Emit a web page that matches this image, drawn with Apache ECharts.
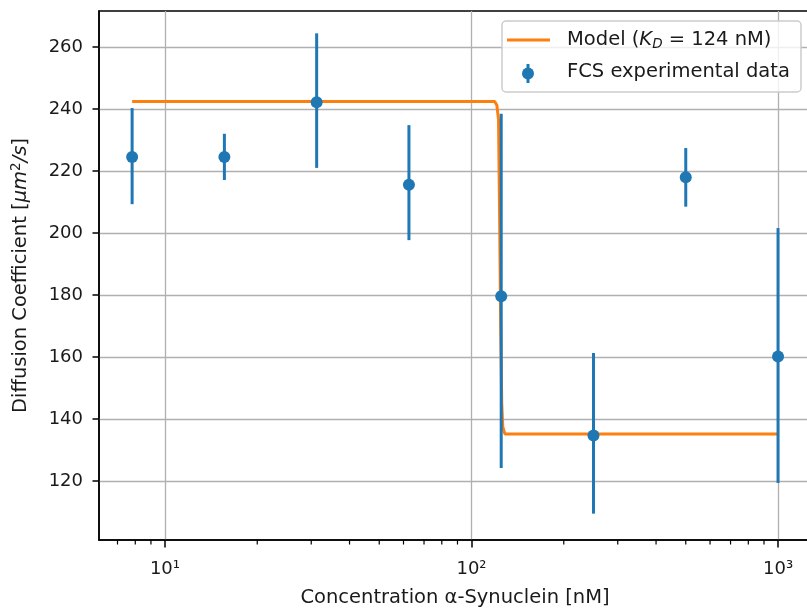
<!DOCTYPE html>
<html><head><meta charset="utf-8">
<script src="https://cdn.jsdelivr.net/npm/echarts@6/dist/echarts.min.js"></script>
<style>html,body{margin:0;padding:0;background:#fff}#c{width:807px;height:609px}</style>
</head><body><div id="c"></div>
<script>
// ---- data ----
const concentrations = [7.8125, 15.625, 31.25, 62.5, 125, 250, 500, 1000];
const diffusion      = [224.5, 224.5, 242.2, 215.6, 179.6, 134.7, 218.0, 160.2];
const errLow         = [209.3, 217.1, 221.0, 197.7, 124.2, 109.5, 208.5, 119.4];
const errHigh        = [240.3, 232.0, 264.4, 234.8, 238.5, 161.3, 227.4, 201.6];
const modelX = [7.8125, 119, 121, 122.5, 123.5, 124.5, 125.5, 126.5, 128.5, 1000];
const modelY = [242.4, 242.4, 241.2, 236.5, 205, 170, 145, 137.5, 135.2, 135.2];
const xTickValues = [10, 100, 1000];
const xTickLabels = ['10\u00B9', '10\u00B2', '10\u00B3'];
const xMinorTicks = [7, 8, 9, 20, 30, 40, 50, 60, 70, 80, 90, 200, 300, 400, 500, 600, 700, 800, 900];
const yTickValues = [120, 140, 160, 180, 200, 220, 240, 260];
const xMin = 6.092, xMax = 1281;
const yMin = 101.0, yMax = 271.6;

const FONT = 'DejaVu Sans';
const BLUE = '#1f77b4', ORANGE = '#ff7f0e', TXT = '#1a1a1a';

const chart = echarts.init(document.getElementById('c'), null, {renderer: 'canvas'});

const errData = concentrations.map((x, i) => [x, errLow[i], errHigh[i]]);
const ptData = concentrations.map((x, i) => [x, diffusion[i]]);
const modelData = modelX.map((x, i) => [x, modelY[i]]);

const option = {
  backgroundColor: '#fff',
  animation: false,
  grid: {left: 99, top: 11, right: -4, bottom: 69, show: true, borderColor: '#000', borderWidth: 1.5,
         containLabel: false, outerBoundsMode: 'none'},
  xAxis: {
    type: 'log', logBase: 10, min: xMin, max: xMax,
    name: 'Concentration \u03B1-Synuclein [nM]', nameLocation: 'middle', nameGap: 48,
    nameTextStyle: {fontFamily: FONT, fontSize: 19.5, color: TXT},
    axisLine: {show: true, lineStyle: {color: '#000', width: 1.5}},
    axisTick: {show: true, customValues: xTickValues, length: 7.5, lineStyle: {color: '#000', width: 1.5}},
    axisLabel: {show: true, customValues: xTickValues, margin: 20, fontFamily: FONT, fontSize: 18, color: TXT,
      formatter: v => { const i = xTickValues.findIndex(t => Math.abs(t - v) / t < 1e-6); return i >= 0 ? xTickLabels[i] : ''; }},
    splitLine: {show: true, lineStyle: {color: '#b0b0b0', width: 1.3}},
    minorTick: {show: false}, minorSplitLine: {show: false}
  },
  yAxis: {
    type: 'value', min: yMin, max: yMax,
    name: '{n|Diffusion Coefficient [}{i|\u03BCm}{sup|2}{i|/s}{n|]}', nameLocation: 'middle', nameGap: 67,
    nameTextStyle: {fontFamily: FONT, fontSize: 19.5, color: TXT,
      rich: {n: {fontFamily: FONT, fontSize: 19.5, color: TXT},
             i: {fontFamily: FONT, fontSize: 19.5, fontStyle: 'italic', color: TXT},
             sup: {fontFamily: FONT, fontSize: 13.5, fontStyle: 'normal', color: TXT, padding: [0, 0, 9, 0]}}},
    axisLine: {show: true, lineStyle: {color: '#000', width: 1.5}},
    axisTick: {show: true, customValues: yTickValues, length: 6.5, lineStyle: {color: '#000', width: 1.5}},
    axisLabel: {show: true, customValues: yTickValues, margin: 16, fontFamily: FONT, fontSize: 18, color: TXT},
    splitLine: {show: true, lineStyle: {color: '#b0b0b0', width: 1.3}}
  },
  series: [
    {
      name: 'Model', type: 'line', data: modelData, showSymbol: false, symbol: 'none',
      lineStyle: {color: ORANGE, width: 3}, itemStyle: {color: ORANGE}, z: 2
    },
    {
      name: 'errbars', type: 'custom', data: errData, z: 3,
      renderItem: (params, api) => {
        const a = api.coord([api.value(0), api.value(1)]);
        const b = api.coord([api.value(0), api.value(2)]);
        return {type: 'line', shape: {x1: a[0], y1: a[1], x2: b[0], y2: b[1]},
                style: {stroke: BLUE, lineWidth: 3}};
      }
    },
    {
      name: 'FCS experimental data', type: 'scatter', data: ptData, symbol: 'circle', symbolSize: 12,
      itemStyle: {color: BLUE, opacity: 1}, z: 4
    },
    {
      name: 'minorTicks', type: 'custom', data: xMinorTicks.map(v => [v]), clip: false, z: 5,
      renderItem: (params, api) => {
        const p = api.coord([api.value(0), yMin]);
        return {type: 'line', shape: {x1: p[0], y1: p[1], x2: p[0], y2: p[1] + 4.5},
                style: {stroke: '#000', lineWidth: 1.2}};
      }
    }
  ],
  graphic: [
    {type: 'rect', shape: {x: 502, y: 21, width: 299, height: 71, r: 4}, z: 100,
     style: {fill: 'rgba(255,255,255,0.8)', stroke: '#cccccc', lineWidth: 1.5}},
    {type: 'line', shape: {x1: 507, y1: 40, x2: 550, y2: 40}, z: 101, style: {stroke: ORANGE, lineWidth: 3}},
    {type: 'line', shape: {x1: 528, y1: 64, x2: 528, y2: 83}, z: 101, style: {stroke: BLUE, lineWidth: 3}},
    {type: 'circle', shape: {cx: 528, cy: 73.5, r: 6}, z: 101, style: {fill: BLUE}},
    {type: 'text', x: 567, y: 40, z: 101, style: {
      text: '{n|Model (}{i|K}{s|D}{n| = 124 nM)}', verticalAlign: 'middle', align: 'left',
      rich: {n: {fontFamily: FONT, fontSize: 19.5, fill: TXT, color: TXT},
             i: {fontFamily: FONT, fontSize: 19.5, fontStyle: 'italic', fill: TXT, color: TXT},
             s: {fontFamily: FONT, fontSize: 13.5, fontStyle: 'italic', fill: TXT, color: TXT, padding: [9, 0, 0, 0]}}
    }},
    {type: 'text', x: 567, y: 72, z: 101, style: {
      text: 'FCS experimental data', verticalAlign: 'middle', align: 'left',
      font: '19.5px "DejaVu Sans"', fill: TXT
    }}
  ]
};
chart.setOption(option);
</script></body></html>
